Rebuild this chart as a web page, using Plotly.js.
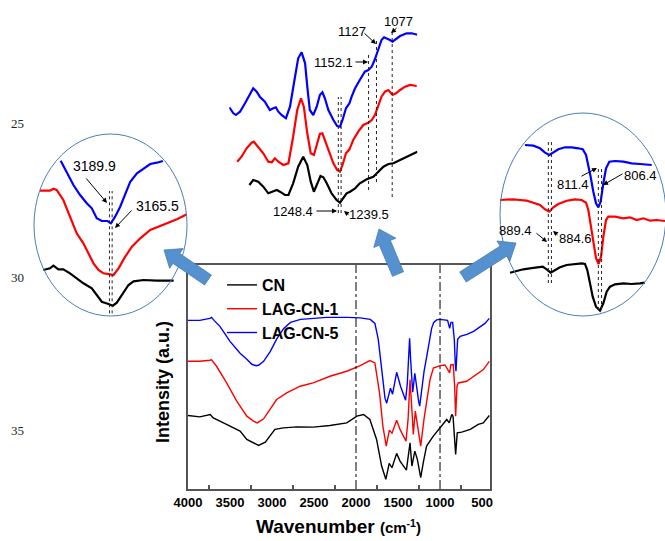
<!DOCTYPE html>
<html><head><meta charset="utf-8">
<script src="https://cdn.plot.ly/plotly-3.0.1.min.js"></script>
<style>html,body{margin:0;padding:0;background:#fff}#chart{width:665px;height:541px}</style>
</head><body><div id="chart"></div>
<script>
// ---------- main spectra (wavenumber cm-1, intensity a.u.) ----------
const seriesNames = ['CN', 'LAG-CN-1', 'LAG-CN-5'];
const mainWnCN = [4000,3860,3735,3700,3620,3500,3380,3300,3220,3160,3080,3025,2965,2865,2705,2510,2310,2110,1990,1910,1835,1755,1695,1645,1605,1572,1516,1476,1420,1400,1370,1357,1335,1300,1270,1246,1230,1200,1160,1080,1000,920,890,860,845,826,814,795,742,640,545,485,413];
const mainCN = [73.7,72.3,74.7,71.3,68,63,58,49.7,46.3,43.7,47,53,59.7,61.3,62.3,62,63.7,66.3,73,74.7,69.7,49.7,23,9.7,25.7,21.3,35.7,28,21.3,19,38,46.3,23,38,29.7,16.3,11.3,26.3,43,53,61.3,69.7,66.3,74.7,73,49.7,34.7,56.3,57,59.7,64.7,66.3,73.7];
const mainWnL1 = [4000,3860,3740,3720,3660,3540,3420,3300,3220,3175,3100,3020,2945,2825,2665,2510,2310,2110,1950,1835,1775,1720,1680,1640,1603,1572,1516,1476,1405,1380,1357,1330,1318,1294,1270,1230,1191,1159,1119,1079,1000,941,885,873,842,826,814,798,782,683,564,484,413];
const mainL1 = [128,128,129,129.5,123,106.3,88,73,68,66.3,70.3,79.7,89.7,96.3,103,106.3,113,118,123.7,128.7,126.3,96.3,63,43,59,56,69,59.7,48,70,109.7,73,54.7,78,66.3,43,69.7,86.3,109.7,121.3,123.7,124.3,116.3,124.3,124.7,103,73,103,106.3,108,114.7,119.7,128];
const mainWnL5 = [4000,3860,3740,3720,3690,3620,3500,3380,3300,3240,3190,3160,3100,3020,2940,2860,2780,2660,2500,2350,2100,1950,1830,1775,1735,1695,1655,1635,1605,1590,1565,1540,1516,1470,1430,1410,1390,1372,1362,1350,1335,1325,1300,1275,1255,1242,1220,1190,1160,1130,1100,1075,1040,1000,960,910,885,870,850,830,818,810,800,790,760,680,600,520,465,413];
const mainL5 = [169,169,171,172,169,163,148,136,130,125,123.5,124,128,138,151,161,167,170,171,172,172,171.5,170,166,150,120,91,86,98,101,95,105,117,103,93,89,105,140,151,130,103,97,116,98,88,83,100,118,132,148,161,167,169.5,170,169.5,169,161,167,167,150,125,118,135,150,153,155,158,163,166,171];
const xTickVals = [4000,3500,3000,2500,2000,1500,1000,500];
const markerLines = [2000, 1000];

// ---------- inset 1 (O-H / N-H region) ----------
const in1WnCN = [3794,3733,3702,3656,3611,3550,3489,3428,3351,3306,3260,3199,3159,3123,3062,3016,2970,2879,2757,2604];
const in1CN = [50,51.7,54.3,50.7,50.7,46.7,41.7,36.7,31.7,25,18.3,16,14.3,17.3,26.7,35,38.7,40,39.3,39.3];
const in1WnL1 = [3824,3733,3702,3672,3611,3550,3489,3428,3382,3336,3290,3245,3184,3153,3107,3046,2985,2909,2818,2696,2574,2482];
const in1L1 = [129.3,129.3,131.3,130,120,103.3,86.7,76.7,66.7,56.7,50,46.7,45.7,45,51.7,63.3,73.3,81.7,90,95,100.7,105.7];
const in1WnL5 = [3635,3580,3519,3458,3397,3351,3306,3260,3208,3177,3138,3092,3046,3000,2939,2879,2818,2757,2702];
const in1L5 = [159.3,148.3,135,125,116.7,111.7,101.7,99,99,96.7,103.3,113.3,126.7,138.3,146.7,151.7,156,157.3,159];
const in1Peaks = [3189.9, 3165.5];

// ---------- inset 2 (fingerprint region) ----------
const in2WnCN = [1531,1519,1503,1487,1471,1455,1444,1434,1418,1407,1392,1376,1360,1347,1336,1326,1315,1305,1296,1286,1270,1254,1243,1233,1222,1211,1195,1180,1158,1137,1121,1105,1089,1073,1052,1031,1015,997];
const in2CN = [25,30,28.3,23.3,16.7,18.3,20,18.3,15,15,26.7,43.3,53.3,45,28.3,18.3,26.7,34,32.7,27.3,16.7,10,7.3,11.7,16.7,18.3,21.7,26.7,30.7,33.3,38.3,43.3,46,46.7,50,53.3,55.7,58.3];
const in2WnL1 = [1570,1556,1540,1524,1517,1503,1487,1471,1460,1450,1439,1423,1407,1392,1379,1367,1358,1347,1336,1326,1315,1307,1299,1291,1280,1264,1252,1243,1235,1224,1213,1201,1185,1169,1153,1142,1132,1121,1111,1100,1089,1076,1065,1052,1036,1020,999];
const in2L1 = [48.3,53.3,61.7,67.3,68.3,63.3,56.7,48.3,47.7,51.7,48.3,45,46.7,73.3,100,111.7,103.3,76.7,56.7,55,66.7,76,76.7,70,60,46.7,40,38.3,45,56.7,60.7,70,78.3,85,87.3,90,95,105,113.3,118.3,120,115,116.7,120,123.3,125,124];
const in2WnL5 = [1595,1582,1574,1561,1545,1529,1519,1508,1498,1482,1466,1455,1447,1439,1429,1415,1402,1386,1376,1365,1354,1347,1339,1328,1317,1307,1299,1291,1280,1264,1252,1243,1235,1224,1213,1206,1195,1180,1164,1153,1142,1132,1121,1111,1103,1095,1084,1076,1065,1052,1031,1015,997];
const in2L5 = [102.7,96.7,95,98.3,106.7,116.7,121.7,118.3,113.3,108.3,100,101.7,102.7,98.3,95,91.7,103.3,133.3,151.7,157.7,146.7,123.3,100,95,103.3,115,117.7,111.7,100,90,84,83.3,90,101.7,106.7,113.3,121.7,130,138.3,140,143.3,150.7,160,170,172.7,171.7,170,168.3,170.7,174,176.7,176.7,175.3];
const in2Peaks = [1248.4, 1239.5, 1152.1, 1127, 1077];

// ---------- inset 3 (triazine region) ----------
const in3WnCN = [949.2,938.8,928.4,918,907.6,898.2,892,885.8,880.6,871.2,860.8,847.8,837.4,832.2,828.6,824.4,820.2,815,808.8,803.6,798.4,793.2,785.4,772.4,759.4,746.4,738.8];
const in3CN = [47.3,49.3,50.7,51.7,52.7,53.3,50.7,47.3,49.3,52.7,55,56,56.7,56,50,36.7,23.3,13.3,9.3,16.7,28.3,33.3,35.7,36.7,36,36.7,37.3];
const in3WnL1 = [964.8,954.4,944,933.6,923.2,912.8,902.4,894.6,887.8,881.6,873.8,860.8,847.8,837.4,830.6,827,823.4,819.2,815,810.9,807.2,803.6,799.4,795.8,785.4,772.4,762,751.6,741.2,730.8,720.4,707.4];
const in3L1 = [120,120.7,120.7,120,119.3,117.3,115,110.7,108.3,112.7,116,119.3,120.7,120,117.3,110,95,76.7,61.7,56,63.3,83.3,100,103.3,103.3,101.7,102.7,100,101.7,99.3,100,99];
const in3WnL5 = [925.8,912.8,902.4,894.6,887.8,881.6,873.8,863.4,853,842.6,835.8,830.6,827,823.4,819.2,815,811.4,807.8,803.6,799.4,794.2,785.4,772.4,759.4,746.4,736,728.2];
const in3L5 = [175,174.3,171.7,167.3,165,167.3,170.7,172.7,172.7,171.7,170.7,165,155,143.3,128.3,116.7,112.7,118.3,136.7,151.7,158.3,159,158.3,156.7,156,155,155];
const in3Peaks = [889.4, 884.6, 811.4, 806.4];

// stray page labels at left edge
const sideLabels = ['25', '30', '35'];

// ---------- helpers ----------
const W = 665, H = 541;
const fx = p => p / W, fy = p => 1 - p / H;
const domX = (a, b) => [fx(a), fx(b)];
const domY = (top, bottom) => [fy(bottom), fy(top)];
const colors = ['#000000', '#ff0000', '#0000ff'];
const FONT = 'Liberation Sans, Arial, sans-serif';

function line(x, y, ci, ax, w, name, legend) {
  return {x, y, type: 'scatter', mode: 'lines', name, showlegend: !!legend,
    line: {color: colors[ci], width: w}, xaxis: 'x' + ax, yaxis: 'y' + ax, hoverinfo: 'skip'};
}
const traces = [
  line(mainWnCN, mainCN, 0, '', 1.4, seriesNames[0], true),
  line(mainWnL1, mainL1, 1, '', 1.4, seriesNames[1], true),
  line(mainWnL5, mainL5, 2, '', 1.4, seriesNames[2], true),
  line(in1WnCN, in1CN, 0, '2', 2.2), line(in1WnL1, in1L1, 1, '2', 2.2), line(in1WnL5, in1L5, 2, '2', 2.2),
  line(in2WnCN, in2CN, 0, '3', 2.2), line(in2WnL1, in2L1, 1, '3', 2.2), line(in2WnL5, in2L5, 2, '3', 2.2),
  line(in3WnCN, in3CN, 0, '4', 2.2), line(in3WnL1, in3L1, 1, '4', 2.2), line(in3WnL5, in3L5, 2, '4', 2.2)
];

const shapes = [];
markerLines.forEach(v => shapes.push({type: 'line', xref: 'x', yref: 'y domain', x0: v, x1: v, y0: 0, y1: 1,
  line: {color: '#000', width: 1, dash: 'dashdot'}}));
function vdot(ax, v, y0, y1) {
  shapes.push({type: 'line', xref: 'x' + ax, yref: 'y' + ax, x0: v, x1: v, y0, y1,
    line: {color: '#222', width: 1, dash: 'dot'}});
}
vdot('2', in1Peaks[0], 6.7, 129); vdot('2', in1Peaks[1], 6.7, 129);
vdot('3', in2Peaks[0], -3, 113); vdot('3', in2Peaks[1], -3, 113);
vdot('3', in2Peaks[2], 20, 158); vdot('3', in2Peaks[3], 28, 170); vdot('3', in2Peaks[4], 13, 180);
vdot('4', in3Peaks[0], 37, 178); vdot('4', in3Peaks[1], 37, 178);
vdot('4', in3Peaks[2], 10, 153); vdot('4', in3Peaks[3], 10, 153);

// ellipses
[[34, 134, 187, 316], [500, 113, 666, 316]].forEach(e => shapes.push({type: 'circle', xref: 'paper', yref: 'paper',
  x0: fx(e[0]), x1: fx(e[2]), y0: fy(e[3]), y1: fy(e[1]), line: {color: '#4a7ebb', width: 1}}));

// block arrows
function blockArrow(tail, tip, sw, hw, hl) {
  const dx = tip[0] - tail[0], dy = tip[1] - tail[1], L = Math.hypot(dx, dy);
  const ux = dx / L, uy = dy / L, nx = -uy, ny = ux;
  const nk = [tip[0] - ux * hl, tip[1] - uy * hl];
  const pts = [
    [tail[0] + nx * sw / 2, tail[1] + ny * sw / 2],
    [nk[0] + nx * sw / 2, nk[1] + ny * sw / 2],
    [nk[0] + nx * hw / 2, nk[1] + ny * hw / 2],
    tip,
    [nk[0] - nx * hw / 2, nk[1] - ny * hw / 2],
    [nk[0] - nx * sw / 2, nk[1] - ny * sw / 2],
    [tail[0] - nx * sw / 2, tail[1] - ny * sw / 2]];
  const path = 'M' + pts.map(p => fx(p[0]).toFixed(5) + ',' + fy(p[1]).toFixed(5)).join('L') + 'Z';
  shapes.push({type: 'path', xref: 'paper', yref: 'paper', path, fillcolor: '#5590cf',
    line: {color: '#4a7cb5', width: 0.8}, layer: 'above'});
}
blockArrow([208, 280], [164, 250], 12, 24, 15);
blockArrow([398, 274], [379, 229], 12, 24, 15);
blockArrow([463, 277], [516, 243], 12, 24, 15);

const annotations = [];
function txt(t, x, y, size, extra) {
  annotations.push(Object.assign({text: t, xref: 'paper', yref: 'paper', x: fx(x), y: fy(y), showarrow: false,
    xanchor: 'center', yanchor: 'middle', font: {family: FONT, size, color: '#000'}}, extra || {}));
}
function arr(tail, head) {
  annotations.push({text: '', xref: 'paper', yref: 'paper', x: fx(head[0]), y: fy(head[1]), showarrow: true,
    axref: 'pixel', ayref: 'pixel', ax: tail[0] - head[0], ay: tail[1] - head[1],
    arrowhead: 2, arrowsize: 1, arrowwidth: 1, arrowcolor: '#000', standoff: 0});
}
txt(String(in1Peaks[0]), 94, 166, 14); arr([85, 177], [107, 203]);
txt(String(in1Peaks[1]), 157, 206, 14); arr([133, 209], [115, 228]);
txt(String(in2Peaks[3]), 352, 32, 13); arr([363, 32], [376, 44]);
txt(String(in2Peaks[4]), 398, 21, 13); arr([398, 27], [391, 33]);
txt(String(in2Peaks[2]), 333, 62, 13); arr([354, 62], [368, 62]);
txt(String(in2Peaks[0]), 293, 211, 13); arr([315, 211], [337, 211]);
txt(String(in2Peaks[1]), 369, 214, 13); arr([350, 216], [344, 211]);
txt(String(in3Peaks[2]), 573, 184, 13); arr([580, 177], [597, 168]);
txt(String(in3Peaks[3]), 640, 175, 13); arr([624, 173], [603, 185]);
txt(String(in3Peaks[0]), 515, 230, 13); arr([535, 232], [547, 242]);
txt(String(in3Peaks[1]), 575, 238, 13); arr([559, 236], [553, 231]);
// axis titles
txt("<b>Wavenumber </b><span style='font-size:15px'><b>(cm<sup>-1</sup>)</b></span>", 338, 526, 19);
txt('<b>Intensity (a.u.)</b>', 163, 382, 18, {textangle: -90});
// side labels
[123, 277, 430].forEach((y, i) => txt(sideLabels[i], 17, y, 13,
  {font: {family: 'Liberation Serif, Times New Roman, serif', size: 13, color: '#222'}}));

const hidden = {visible: false, fixedrange: true};
const layout = {
  width: W, height: H, margin: {l: 0, r: 0, t: 0, b: 0},
  paper_bgcolor: '#fff', plot_bgcolor: 'rgba(0,0,0,0)',
  showlegend: true,
  legend: {x: fx(222), y: fy(268), xanchor: 'left', yanchor: 'top', bgcolor: 'rgba(0,0,0,0)',
    font: {family: FONT, size: 16, color: '#000', weight: 'bold'}, tracegroupgap: 0},
  xaxis: {domain: domX(188, 490), range: [4000, 405], anchor: 'y', showline: true, mirror: true,
    linecolor: '#555', linewidth: 2, showgrid: false, zeroline: false, ticks: '',
    tickmode: 'array', tickvals: xTickVals, ticktext: xTickVals.map(String),
    tickfont: {family: FONT, size: 13, color: '#000', weight: 'bold'},
    minor: {ticks: 'inside', tickmode: 'linear', tick0: 250, dtick: 500, ticklen: 4, tickcolor: '#555', tickwidth: 1.5, showgrid: false},
    fixedrange: true},
  yaxis: {domain: domY(265, 489), range: [0, 224.5], anchor: 'x', showline: true, mirror: true,
    linecolor: '#555', linewidth: 2, showgrid: false, zeroline: false, ticks: '', showticklabels: false, fixedrange: true},
  xaxis2: Object.assign({domain: domX(40, 187), range: [3824, 2482], anchor: 'y2'}, hidden),
  yaxis2: Object.assign({domain: domY(110, 320), range: [0, 210], anchor: 'x2'}, hidden),
  xaxis3: Object.assign({domain: domX(229.3, 417.3), range: [1595, 997.2], anchor: 'y3'}, hidden),
  yaxis3: Object.assign({domain: domY(0, 220), range: [-10, 210], anchor: 'x3'}, hidden),
  xaxis4: Object.assign({domain: domX(500, 665), range: [964.8, 707.4], anchor: 'y4'}, hidden),
  yaxis4: Object.assign({domain: domY(110, 320), range: [0, 210], anchor: 'x4'}, hidden),
  shapes, annotations
};
Plotly.newPlot('chart', traces, layout, {staticPlot: true, displayModeBar: false});
</script></body></html>
